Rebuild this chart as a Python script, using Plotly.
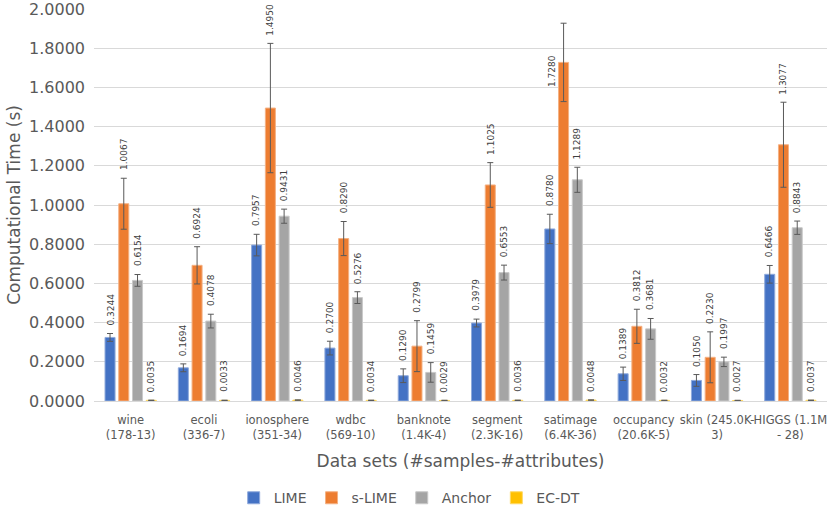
import plotly.graph_objects as go

# data sets (tick labels, wrapped like the original)
datasets = ["wine<br>(178-13)", "ecoli<br>(336-7)", "ionosphere<br>(351-34)",
            "wdbc<br>(569-10)", "banknote<br>(1.4K-4)", "segment<br>(2.3K-16)",
            "satimage<br>(6.4K-36)", "occupancy<br>(20.6K-5)", "skin (245.0K-<br>3)",
            "HIGGS (1.1M<br>- 28)"]

lime = [0.3244, 0.1694, 0.7957, 0.2700, 0.1290, 0.3979, 0.8780, 0.1389, 0.1050, 0.6466]
slime = [1.0067, 0.6924, 1.4950, 0.8290, 0.2799, 1.1025, 1.7280, 0.3812, 0.2230, 1.3077]
anchor = [0.6154, 0.4078, 0.9431, 0.5276, 0.1459, 0.6553, 1.1289, 0.3681, 0.1997, 0.8843]
ecdt = [0.0035, 0.0033, 0.0046, 0.0034, 0.0029, 0.0036, 0.0048, 0.0032, 0.0027, 0.0037]

# error bar half-lengths
lime_err = [0.020, 0.020, 0.055, 0.035, 0.035, 0.020, 0.075, 0.034, 0.030, 0.045]
slime_err = [0.130, 0.095, 0.330, 0.087, 0.130, 0.114, 0.200, 0.087, 0.130, 0.217]
anchor_err = [0.030, 0.035, 0.036, 0.030, 0.050, 0.038, 0.064, 0.053, 0.024, 0.034]
ecdt_err = [0.001, 0.001, 0.001, 0.001, 0.001, 0.001, 0.001, 0.001, 0.001, 0.001]

y_ticks = [0.0, 0.2, 0.4, 0.6, 0.8, 1.0, 1.2, 1.4, 1.6, 1.8, 2.0]

series = [
    ("LIME", lime, lime_err, "#4472C4", "#8FAADC"),
    ("s-LIME", slime, slime_err, "#ED7D31", "#F4B183"),
    ("Anchor", anchor, anchor_err, "#A5A5A5", "#C9C9C9"),
    ("EC-DT", ecdt, ecdt_err, "#FFC000", "#FFD966"),
]

FONT = "DejaVu Sans"
BARGAP = 0.25
xs = list(range(len(datasets)))

fig = go.Figure()
annotations = []
slot = (1 - BARGAP) / len(series)

for k, (name, vals, errs, color, edge) in enumerate(series):
    fig.add_trace(go.Bar(
        name=name, x=xs, y=vals,
        marker=dict(color=color, line=dict(color=edge, width=1)),
        error_y=dict(type="data", array=errs, color="#595959", thickness=1, width=3),
    ))
    off = (k - (len(series) - 1) / 2) * slot
    for i, (v, e) in enumerate(zip(vals, errs)):
        ann = dict(x=i + off, y=v + e, xref="x", yref="y", text=f"{v:.4f}",
                   textangle=-90, showarrow=False, yanchor="bottom", yshift=6,
                   font=dict(family=FONT, size=9, color="#404040"))
        if name == "s-LIME" and v > 1.7:
            # this label was moved down beside the bar in the original
            ann.update(y=v, yanchor="top", yshift=9, xshift=-11)
        annotations.append(ann)

fig.update_layout(
    width=831, height=512,
    margin=dict(l=94, r=4, t=9, b=111),
    paper_bgcolor="white", plot_bgcolor="white",
    barmode="group", bargap=BARGAP, bargroupgap=0.27,
    font=dict(family=FONT, color="#595959"),
    showlegend=True,
    legend=dict(orientation="h", xref="container", yref="container",
                x=0.493, y=0.027, xanchor="center", yanchor="middle",
                font=dict(size=14, color="#595959"), itemwidth=30,
                traceorder="normal"),
    annotations=annotations,
)

fig.update_xaxes(
    tickvals=xs, ticktext=datasets, range=[-0.5, len(datasets) - 0.5],
    showgrid=False, showline=True, linecolor="#D9D9D9", linewidth=1,
    ticks="", tickangle=0, tickfont=dict(size=11.5, color="#595959"),
    ticklabelstandoff=8, automargin=False,
    title=dict(text="Data sets (#samples-#attributes)",
               font=dict(size=17, color="#595959"), standoff=14),
)
fig.update_yaxes(
    range=[0, 2.0005], tickvals=y_ticks, tickformat=".4f",
    showgrid=True, gridcolor="#D9D9D9", gridwidth=1, zeroline=False,
    ticks="", tickfont=dict(size=16, color="#595959"), ticklabelstandoff=8,
    ticklabeloverflow="allow", automargin=False,
    title=dict(text="Computational Time (s)",
               font=dict(size=17, color="#595959"), standoff=4),
)

fig.write_html("out.html", config={"displayModeBar": False},
               post_script="document.body.style.margin='0';")
